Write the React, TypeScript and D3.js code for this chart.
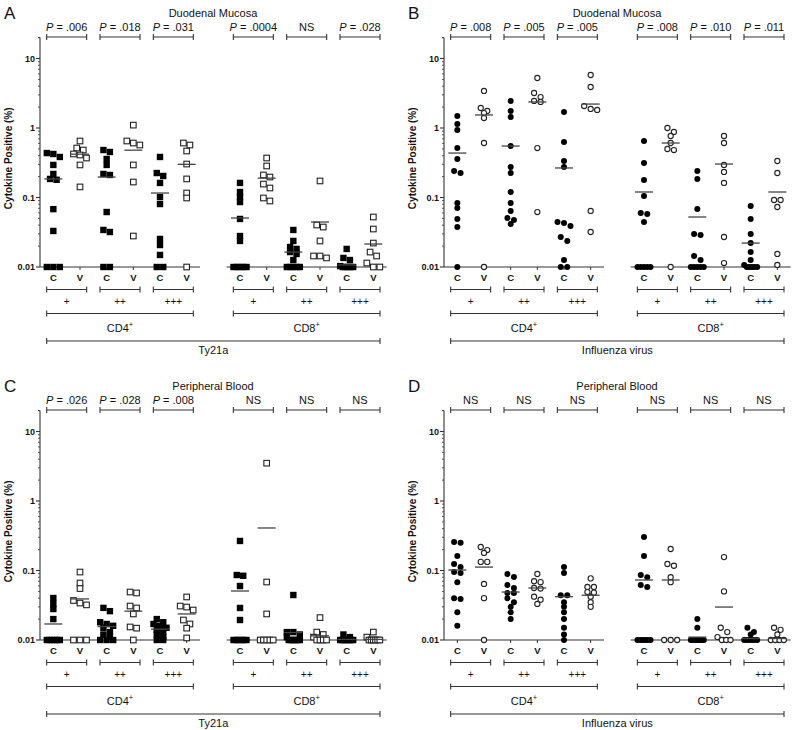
import React from "react";
import * as d3 from "d3";

// ---------------- DATA ----------------
const panelLetters = ["A", "B", "C", "D"];
const panelTitles = ["Duodenal Mucosa", "Duodenal Mucosa", "Peripheral Blood", "Peripheral Blood"];
const stimuli = ["Ty21a", "Influenza virus", "Ty21a", "Influenza virus"];
const markerShapes = ["square", "circle", "square", "circle"];
const subsets = ["CD4", "CD8"];
const levels = ["+", "++", "+++"];
const groupLabels = ["C", "V"];
const yTickValues = [0.01, 0.1, 1, 10];
const yTickLabels = ["0.01", "0.1", "1", "10"];
const yAxisLabel = "Cytokine Positive (%)";

const pValuesA = [".006", ".018", ".031", ".0004", "NS", ".028"];
const pValuesB = [".008", ".005", ".005", ".008", ".010", ".011"];
const pValuesC = [".026", ".028", ".008", "NS", "NS", "NS"];
const pValuesD = ["NS", "NS", "NS", "NS", "NS", "NS"];

// order of subgroups: CD4 +, CD4 ++, CD4 +++, CD8 +, CD8 ++, CD8 +++
const mucosaTyControl = [
  [0.436, 0.423, 0.383, 0.294, 0.218, 0.185, 0.18, 0.068, 0.033, 0.01, 0.01, 0.01],
  [0.482, 0.452, 0.358, 0.294, 0.218, 0.211, 0.0618, 0.0341, 0.0319, 0.01, 0.01],
  [0.383, 0.225, 0.204, 0.162, 0.1017, 0.0806, 0.0253, 0.0207, 0.0149, 0.01, 0.01],
  [0.162, 0.12, 0.1017, 0.0861, 0.0491, 0.0279, 0.0237, 0.01, 0.01, 0.01, 0.01, 0.01],
  [0.0341, 0.0237, 0.0194, 0.0182, 0.0164, 0.0154, 0.0126, 0.01, 0.01, 0.01, 0.01, 0.01],
  [0.0182, 0.0135, 0.0126, 0.0103, 0.01, 0.01, 0.01, 0.01, 0.01],
];
const mucosaTyVaccinee = [
  [0.65, 0.515, 0.482, 0.423, 0.409, 0.37, 0.294, 0.142],
  [1.1, 0.65, 0.608, 0.569, 0.294, 0.167, 0.0279],
  [0.608, 0.569, 0.467, 0.303, 0.185, 0.116, 0.0984, 0.01],
  [0.37, 0.284, 0.211, 0.197, 0.156, 0.137, 0.0984, 0.0891],
  [0.173, 0.0402, 0.0376, 0.0237, 0.0144, 0.0144, 0.0135],
  [0.0524, 0.0352, 0.0221, 0.0164, 0.0144, 0.0114, 0.01, 0.01],
];
const mucosaTyControlMean = [0.185, 0.197, 0.116, 0.0507, 0.0164, 0.0107];
const mucosaTyVaccineeMean = [0.42, 0.48, 0.3, 0.19, 0.0444, 0.0214];

const mucosaFluControl = [
  [1.49, 1.14, 0.936, 0.515, 0.358, 0.24, 0.225, 0.0834, 0.0706, 0.0491, 0.0376, 0.01],
  [2.45, 1.76, 1.44, 0.551, 0.275, 0.225, 0.12, 0.0834, 0.064, 0.0507, 0.0475, 0.0416],
  [1.7, 0.629, 0.335, 0.275, 0.0444, 0.043, 0.0389, 0.027, 0.0237, 0.0126, 0.01, 0.01],
  [0.65, 0.313, 0.179, 0.105, 0.0598, 0.0579, 0.0444, 0.01, 0.01, 0.01, 0.01, 0.01],
  [0.24, 0.185, 0.0683, 0.0298, 0.0289, 0.0144, 0.0126, 0.01, 0.01, 0.01, 0.01, 0.01],
  [0.0755, 0.0491, 0.0298, 0.0221, 0.0164, 0.0126, 0.0107, 0.01, 0.01, 0.01, 0.01, 0.01],
];
const mucosaFluVaccinee = [
  [3.41, 1.94, 1.76, 1.64, 1.39, 0.608, 0.01],
  [5.24, 3.19, 2.79, 2.45, 2.37, 0.515, 0.0618],
  [5.79, 3.89, 2.07, 1.88, 1.82, 0.064, 0.0319],
  [1.0, 0.876, 0.767, 0.608, 0.499, 0.482, 0.01],
  [0.767, 0.608, 0.294, 0.233, 0.162, 0.027, 0.0114],
  [0.335, 0.225, 0.092, 0.092, 0.073, 0.0154, 0.0107],
];
const mucosaFluControlMean = [0.436, 0.55, 0.266, 0.12, 0.0524, 0.0221];
const mucosaFluVaccineeMean = [1.54, 2.37, 2.21, 0.608, 0.303, 0.12];

const bloodTyControl = [
  [0.0402, 0.033, 0.0279, 0.02, 0.01, 0.01, 0.01, 0.01, 0.01, 0.01],
  [0.029, 0.026, 0.018, 0.017, 0.016, 0.015, 0.013, 0.012, 0.011, 0.01, 0.01, 0.01],
  [0.02, 0.018, 0.017, 0.016, 0.015, 0.015, 0.014, 0.013, 0.012, 0.011, 0.01, 0.01],
  [0.266, 0.0861, 0.084, 0.0598, 0.0289, 0.0194, 0.01, 0.01, 0.01, 0.01, 0.01, 0.01],
  [0.0444, 0.013, 0.013, 0.012, 0.011, 0.01, 0.01, 0.01, 0.01, 0.01, 0.01, 0.01],
  [0.012, 0.011, 0.01, 0.01, 0.01, 0.01, 0.01, 0.01, 0.01, 0.01],
];
const bloodTyVaccinee = [
  [0.095, 0.066, 0.055, 0.037, 0.034, 0.032, 0.01, 0.01, 0.01],
  [0.0475, 0.049, 0.0308, 0.0289, 0.0237, 0.0154, 0.0148, 0.01],
  [0.0416, 0.0308, 0.0298, 0.027, 0.0194, 0.017, 0.0148, 0.0107],
  [3.5, 0.0683, 0.0237, 0.01, 0.01, 0.01, 0.01, 0.01],
  [0.021, 0.013, 0.012, 0.011, 0.01, 0.01, 0.01, 0.01],
  [0.013, 0.011, 0.01, 0.01, 0.01, 0.01, 0.01, 0.01],
];
const bloodTyControlMean = [0.017, 0.0156, 0.0143, 0.0507, 0.0128, 0.0102];
const bloodTyVaccineeMean = [0.039, 0.026, 0.0237, 0.409, 0.0115, 0.0102];

const bloodFluControl = [
  [0.257, 0.25, 0.162, 0.124, 0.112, 0.095, 0.092, 0.068, 0.04, 0.039, 0.025, 0.016],
  [0.089, 0.0806, 0.062, 0.056, 0.0475, 0.0475, 0.04, 0.035, 0.03, 0.025, 0.02],
  [0.112, 0.092, 0.044, 0.044, 0.035, 0.03, 0.025, 0.02, 0.015, 0.012, 0.01],
  [0.303, 0.162, 0.086, 0.08, 0.062, 0.058, 0.01, 0.01, 0.01, 0.01, 0.01, 0.01],
  [0.02, 0.015, 0.01, 0.01, 0.01, 0.01, 0.01, 0.01, 0.01, 0.01],
  [0.015, 0.013, 0.012, 0.01, 0.01, 0.01, 0.01, 0.01, 0.01],
];
const bloodFluVaccinee = [
  [0.218, 0.197, 0.179, 0.133, 0.133, 0.064, 0.04, 0.01],
  [0.089, 0.07, 0.068, 0.056, 0.055, 0.042, 0.038, 0.033],
  [0.077, 0.058, 0.058, 0.049, 0.048, 0.042, 0.035, 0.03],
  [0.204, 0.124, 0.117, 0.08, 0.068, 0.01, 0.01, 0.01],
  [0.156, 0.05, 0.015, 0.013, 0.011, 0.01, 0.01, 0.01],
  [0.015, 0.014, 0.012, 0.01, 0.01, 0.01, 0.01],
];
const bloodFluControlMean = [0.1017, 0.049, 0.042, 0.073, 0.011, 0.0105];
const bloodFluVaccineeMean = [0.112, 0.056, 0.044, 0.073, 0.0298, 0.0105];

// ---------------- LAYOUT ----------------
const panelData = [
  { p: pValuesA, c: mucosaTyControl, v: mucosaTyVaccinee, cm: mucosaTyControlMean, vm: mucosaTyVaccineeMean },
  { p: pValuesB, c: mucosaFluControl, v: mucosaFluVaccinee, cm: mucosaFluControlMean, vm: mucosaFluVaccineeMean },
  { p: pValuesC, c: bloodTyControl, v: bloodTyVaccinee, cm: bloodTyControlMean, vm: bloodTyVaccineeMean },
  { p: pValuesD, c: bloodFluControl, v: bloodFluVaccinee, cm: bloodFluControlMean, vm: bloodFluVaccineeMean },
];
const panelOffsets = [
  [0, 0],
  [404, 0],
  [0, 373],
  [404, 373],
];

const FONT = "'Liberation Sans', Arial, Helvetica, sans-serif";
const AXIS = "#333";

const xScale = d3.scaleLinear().domain([0, 13]).range([40, 386.67]);
const yScale = d3.scaleLog().domain([0.01, 10]).range([267, 58.5]);
const slotW = xScale(1) - xScale(0);
const slotOf = (s: number, g: number) => (s < 3 ? s * 2 + g : s * 2 + g + 1);
const cxOf = (s: number, g: number) => xScale(slotOf(s, g) + 0.5);

function spread(values: number[], cx: number) {
  const pts = values.map((v) => ({ v, y: yScale(v) })).sort((a, b) => a.y - b.y);
  const rows: { v: number; y: number }[][] = [];
  let cur: { v: number; y: number }[] = [];
  for (const p of pts) {
    if (cur.length && p.y - cur[0].y > 4.5) {
      rows.push(cur);
      cur = [];
    }
    cur.push(p);
  }
  if (cur.length) rows.push(cur);
  const out: { x: number; y: number }[] = [];
  rows.forEach((r) => {
    const n = r.length;
    const sp = n <= 2 ? 6.5 : Math.min(6.5, 13 / (n - 1));
    r.forEach((p, i) => out.push({ x: cx + (i - (n - 1) / 2) * sp, y: p.y }));
  });
  return out;
}

function Bracket({ x1, x2, y, h = 3 }: { x1: number; x2: number; y: number; h?: number }) {
  return (
    <g stroke={AXIS} strokeWidth={1.1}>
      <line x1={x1} x2={x2} y1={y} y2={y} />
      <line x1={x1} x2={x1} y1={y - h} y2={y + h} />
      <line x1={x2} x2={x2} y1={y - h} y2={y + h} />
    </g>
  );
}

function Marker({ x, y, shape, filled }: { x: number; y: number; shape: string; filled: boolean }) {
  if (shape === "square") {
    return filled ? (
      <rect x={x - 3.2} y={y - 3.2} width={6.4} height={6.4} fill="#000" />
    ) : (
      <rect x={x - 2.8} y={y - 2.8} width={5.6} height={5.6} fill="#fff" stroke="#222" strokeWidth={1.1} />
    );
  }
  return filled ? (
    <circle cx={x} cy={y} r={3} fill="#000" />
  ) : (
    <circle cx={x} cy={y} r={2.6} fill="#fff" stroke="#222" strokeWidth={1.1} />
  );
}

function Panel({ idx }: { idx: number }) {
  const [ox, oy] = panelOffsets[idx];
  const d = panelData[idx];
  const shape = markerShapes[idx];
  const y0 = yScale(0.01);
  const yTop = yScale(20);
  const minor: number[] = [];
  [0.01, 0.1, 1, 10].forEach((dec) => {
    for (let k = 2; k <= 9; k++) if (dec * k <= 20) minor.push(dec * k);
  });
  minor.push(20);
  const pairs = d3.range(6);
  return (
    <g transform={`translate(${ox},${oy})`} fontFamily={FONT}>
      <text x={4} y={19} fontSize={17} fill="#111">
        {panelLetters[idx]}
      </text>
      <text x={213} y={17} fontSize={11} textAnchor="middle" fill="#111">
        {panelTitles[idx]}
      </text>
      {/* y axis */}
      <line x1={40} x2={40} y1={yTop} y2={y0} stroke={AXIS} strokeWidth={1.1} />
      {yTickValues.map((t, i) => (
        <g key={t}>
          <line x1={36} x2={40} y1={yScale(t)} y2={yScale(t)} stroke={AXIS} strokeWidth={1.1} />
          <text x={35} y={yScale(t) + 3.2} fontSize={9} fontWeight="bold" textAnchor="end" fill="#111">
            {yTickLabels[i]}
          </text>
        </g>
      ))}
      {minor.map((t) => (
        <line key={t} x1={38} x2={40} y1={yScale(t)} y2={yScale(t)} stroke={AXIS} strokeWidth={0.8} />
      ))}
      <text
        transform={`translate(12,${(yTop + y0) / 2 + 6}) rotate(-90)`}
        fontSize={10}
        fontWeight="bold"
        textAnchor="middle"
        fill="#111"
      >
        {yAxisLabel}
      </text>
      {/* x axis segments */}
      <line x1={xScale(0)} x2={xScale(6)} y1={y0} y2={y0} stroke={AXIS} strokeWidth={1.1} />
      <line x1={xScale(7)} x2={xScale(13)} y1={y0} y2={y0} stroke={AXIS} strokeWidth={1.1} />
      {pairs.map((s) =>
        [0, 1].map((g) => (
          <g key={`${s}-${g}`}>
            <line x1={cxOf(s, g)} x2={cxOf(s, g)} y1={y0} y2={y0 + 3} stroke={AXIS} strokeWidth={1} />
            <text x={cxOf(s, g)} y={y0 + 14} fontSize={9.5} fontWeight="bold" textAnchor="middle" fill="#111">
              {groupLabels[g]}
            </text>
          </g>
        ))
      )}
      {/* data */}
      {pairs.map((s) =>
        [0, 1].map((g) => {
          const vals = g === 0 ? d.c[s] : d.v[s];
          const cx = cxOf(s, g);
          const pts = spread(vals, cx);
          const m = g === 0 ? d.cm[s] : d.vm[s];
          return (
            <g key={`d${s}-${g}`}>
              {pts.map((p, i) => (
                <Marker key={i} x={p.x} y={p.y} shape={shape} filled={g === 0} />
              ))}
              <line x1={cx - 9} x2={cx + 9} y1={yScale(m)} y2={yScale(m)} stroke="#444" strokeWidth={1.3} />
            </g>
          );
        })
      )}
      {/* top brackets and p values */}
      {pairs.map((s) => {
        const x1 = cxOf(s, 0) - slotW / 4;
        const x2 = cxOf(s, 1) + slotW / 4;
        const pv = d.p[s];
        return (
          <g key={`p${s}`}>
            <Bracket x1={x1} x2={x2} y={37} />
            <text x={(x1 + x2) / 2} y={31} fontSize={11} textAnchor="middle" fill="#111">
              {pv === "NS" ? (
                "NS"
              ) : (
                <>
                  <tspan fontStyle="italic">P</tspan>
                  {` = ${pv}`}
                </>
              )}
            </text>
          </g>
        );
      })}
      {/* bottom brackets */}
      {pairs.map((s) => {
        const x1 = cxOf(s, 0) - slotW / 4;
        const x2 = cxOf(s, 1) + slotW / 4;
        return (
          <g key={`b${s}`}>
            <Bracket x1={x1} x2={x2} y={289.5} />
            <text x={(x1 + x2) / 2} y={305} fontSize={10} textAnchor="middle" fill="#111">
              {levels[s % 3]}
            </text>
          </g>
        );
      })}
      {[0, 1].map((k) => {
        const x1 = cxOf(k * 3, 0) - slotW / 4;
        const x2 = cxOf(k * 3 + 2, 1) + slotW / 4;
        return (
          <g key={`g${k}`}>
            <Bracket x1={x1} x2={x2} y={313.5} />
            <text x={(x1 + x2) / 2} y={332} fontSize={11} textAnchor="middle" fill="#111">
              {subsets[k]}
              <tspan dy={-5} fontSize={7.5}>
                +
              </tspan>
            </text>
          </g>
        );
      })}
      <Bracket x1={cxOf(0, 0) - slotW / 4} x2={cxOf(5, 1) + slotW / 4} y={341} />
      <text x={(cxOf(0, 0) + cxOf(5, 1)) / 2} y={354} fontSize={11} textAnchor="middle" fill="#111">
        {stimuli[idx]}
      </text>
    </g>
  );
}

export default function App() {
  return (
    <svg
      width={792}
      height={730}
      viewBox="0 0 792 730"
      style={{ position: "absolute", left: 0, top: 0, background: "#fff", display: "block" }}
    >
      <rect width={792} height={730} fill="#fff" />
      {[0, 1, 2, 3].map((i) => (
        <Panel key={i} idx={i} />
      ))}
    </svg>
  );
}
